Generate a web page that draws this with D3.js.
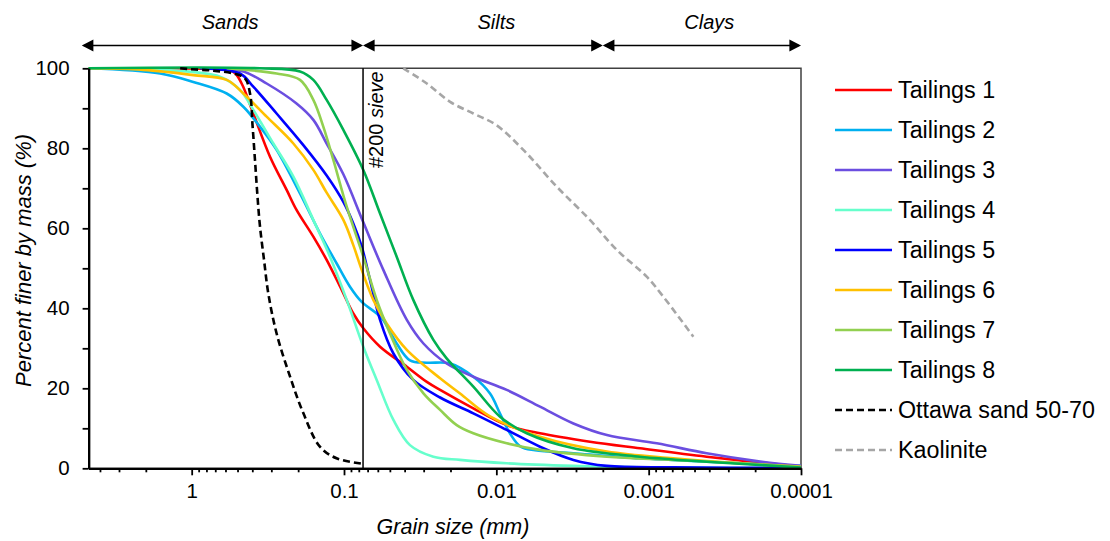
<!DOCTYPE html>
<html><head><meta charset="utf-8">
<script src="https://cdn.jsdelivr.net/npm/d3@7"></script>
<style>body{margin:0;background:#fff}text{font-family:"Liberation Sans",Arial,sans-serif;fill:#000}</style>
</head><body><svg id="c" width="1110" height="541"></svg>
<script>
// ---- data (grain size in mm, percent finer by mass) ----
const xMajorTicks = [1, 0.1, 0.01, 0.001, 0.0001];
const xTickLabels = ["1", "0.1", "0.01", "0.001", "0.0001"];
const yMajorTicks = [0, 20, 40, 60, 80, 100];
const yMinorTicks = [10, 30, 50, 70, 90];
const seriesNames = ["Tailings 1","Tailings 2","Tailings 3","Tailings 4","Tailings 5","Tailings 6","Tailings 7","Tailings 8","Ottawa sand 50-70","Kaolinite"];
const seriesColors = ["#FF0000","#00B0F0","#6B4EE0","#66FFCC","#0000FF","#FFC000","#92D050","#00B050","#000000","#A6A6A6"];
const seriesDashed = [false,false,false,false,false,false,false,false,true,true];
const soilZones = ["Sands","Silts","Clays"];
const zoneBounds = [4.75, 0.075, 0.002, 0.0001];
const zoneLabelAt = [0.56, 0.0100, 0.0004];
const sieve200 = 0.075;

const tailings1 = [[2.18,100],[0.88,99.9],[0.536,99.2],[0.470,96.2],[0.394,88.7],[0.306,77.9],[0.238,69.6],[0.205,64.6],[0.159,57.9],[0.130,52.1],[0.106,45.4],[0.0869,38.7],[0.0747,35],[0.0580,30.4],[0.0387,25.4],[0.0286,21.6],[0.0234,19.6],[0.01416,15],[0.00855,10.8],[0.00517,8.75],[0.00243,6.65],[0.00114,5],[0.000416,2.9],[0.0001,0.4]];
const tailings2 = [[4.75,100],[1.61,98.7],[0.976,96.6],[0.589,93.7],[0.458,90.4],[0.356,85.4],[0.277,79.6],[0.1945,68.7],[0.1437,58.7],[0.1117,51.2],[0.0914,45.4],[0.0765,41.6],[0.0610,38.7],[0.0552,37],[0.0451,31.2],[0.0369,27],[0.0286,26.4],[0.0201,26.2],[0.01416,22.9],[0.0110,18.7],[0.00946,13.7],[0.00813,8.7],[0.00692,5.4],[0.00557,4.5],[0.00312,3.75],[0.00114,2.5],[0.000416,1.65],[0.0001,0.6]];
const tailings3 = [[0.758,100],[0.458,99.2],[0.322,96.2],[0.205,91.2],[0.159,87.1],[0.130,81.2],[0.101,73.5],[0.0747,61.5],[0.0552,49.6],[0.0387,37.1],[0.0301,31.2],[0.0212,26.2],[0.01416,22.9],[0.00855,19.6],[0.00517,15.4],[0.00312,11.2],[0.00188,8.3],[0.000885,6.25],[0.000416,3.75],[0.000195,1.8],[0.0001,0.6]];
const tailings4 = [[4.75,100],[1.61,99.6],[0.652,97.9],[0.482,94.6],[0.394,89.6],[0.291,81.2],[0.215,72.9],[0.159,62.1],[0.1236,52.9],[0.096,42.1],[0.0747,30.4],[0.0610,22.1],[0.0474,12.1],[0.0369,5.8],[0.0259,2.9],[0.0173,2.1],[0.00855,1.25],[0.00312,0.6],[0.00114,0.25],[0.0001,0]];
const tailings5 = [[0.882,100],[0.482,98.7],[0.394,95.4],[0.277,88.7],[0.185,80.8],[0.130,73.2],[0.101,66.6],[0.0869,61.2],[0.0765,55.4],[0.0675,47.1],[0.0580,37.1],[0.0474,28.7],[0.0351,22.1],[0.0234,17.7],[0.01416,13.75],[0.00855,9.6],[0.00517,5.4],[0.00312,2.1],[0.00188,0.6],[0.000689,0.25],[0.0001,0.1]];
const tailings6 = [[4.75,100],[2.08,99.6],[0.976,98.3],[0.589,97.1],[0.458,93.7],[0.322,87.9],[0.215,81.2],[0.159,74.6],[0.130,68.9],[0.101,62.1],[0.0869,55.8],[0.0765,49.6],[0.0642,42.1],[0.0525,36.2],[0.0387,29.6],[0.0234,22.5],[0.0173,18.7],[0.0110,13],[0.00517,7.9],[0.00188,4.2],[0.000689,2.5],[0.000251,1.25],[0.0001,0.4]];
const tailings7 = [[0.589,100],[0.277,98.7],[0.1945,97.1],[0.159,92.1],[0.1368,85.4],[0.1175,77.1],[0.096,65.4],[0.0747,52.9],[0.0610,42.1],[0.0499,33.7],[0.0387,24.6],[0.0301,18.75],[0.0234,14.6],[0.0182,10.8],[0.01416,8.75],[0.00855,6.25],[0.00517,4.6],[0.00188,2.9],[0.000689,2.1],[0.000251,1.25],[0.0001,0.3]];
const tailings8 = [[4.75,100],[0.356,100],[0.1945,99.2],[0.159,97.1],[0.130,92.1],[0.101,84.6],[0.0747,74.6],[0.0580,63.7],[0.0451,52.9],[0.0351,42.1],[0.0259,32.1],[0.0212,27.5],[0.01416,20.4],[0.00946,12.9],[0.00632,8.75],[0.00312,5],[0.00114,2.9],[0.000416,1.65],[0.0001,0.2]];
const ottawaSand = [[1.19,100],[1.03,99.8],[0.72,99.4],[0.533,98.7],[0.447,97.5],[0.414,93.7],[0.398,85.4],[0.384,77],[0.371,68.7],[0.356,60.4],[0.335,52.1],[0.314,43.7],[0.277,33.7],[0.226,22.9],[0.185,13.8],[0.144,5.4],[0.112,2.5],[0.0747,1.1]];
const kaolinite = [[0.0408,100],[0.0286,96.2],[0.0201,91.6],[0.01416,88.7],[0.0100,85.8],[0.00665,79.6],[0.00401,70.4],[0.00243,62.1],[0.00162,54.6],[0.00103,47.9],[0.000801,42.9],[0.000509,32.9]];
const allSeries = [tailings1,tailings2,tailings3,tailings4,tailings5,tailings6,tailings7,tailings8,ottawaSand,kaolinite];

// ---- layout ----
const svg = d3.select("#c");
const L = 88.6, R = 801, T = 68.3, B = 468.3;
const x = d3.scaleLog().domain([4.75, 0.0001]).range([L, R]);
const y = d3.scaleLinear().domain([0, 100]).range([B, T]);

// minor x ticks (2..9 within each decade)
const xMinor = [];
[10, 1, 0.1, 0.01, 0.001].forEach(dec => { for (let k = 2; k <= 9; k++) { const v = dec * k / 10; if (v < 4.75 && v > 0.0001) xMinor.push(v); } });

// frame (top / right)
svg.append("path").attr("d", `M${L},${T}H${R}V${B}`).attr("fill","none").attr("stroke","#404040").attr("stroke-width",1.5);

// series
const line = d3.line().x(d => x(d[0])).y(d => Math.min(y(d[1]), B)).curve(d3.curveCatmullRom.alpha(0.5));
const plot = svg.append("g");
allSeries.forEach((s, i) => {
  plot.append("path").datum(s).attr("d", line).attr("fill","none")
    .attr("stroke", seriesColors[i]).attr("stroke-width", 2.6)
    .attr("stroke-dasharray", seriesDashed[i] ? "7,4" : null)
    .attr("stroke-linejoin","round");
});

// #200 sieve line
svg.append("line").attr("x1", x(sieve200)).attr("x2", x(sieve200)).attr("y1", T).attr("y2", B)
  .attr("stroke","#000").attr("stroke-width",1.5);
const st = svg.append("text").attr("transform", `translate(${x(sieve200)+19.5},${T+3}) rotate(-90)`)
  .attr("text-anchor","end").style("font-size","20px");
st.append("tspan").text("#200 ");
st.append("tspan").style("font-style","italic").text("sieve");

// axes
const gx = svg.append("g").attr("transform", `translate(0,${B})`);
gx.call(d3.axisBottom(x).tickValues(xMinor).tickSize(4).tickSizeOuter(0).tickFormat(""));
const gx2 = svg.append("g").attr("transform", `translate(0,${B})`);
gx2.call(d3.axisBottom(x).tickValues(xMajorTicks).tickSize(7).tickSizeOuter(0).tickPadding(8)
  .tickFormat((d, i) => xTickLabels[i]));
const gy = svg.append("g").attr("transform", `translate(${L},0)`);
gy.call(d3.axisLeft(y).tickValues(yMinorTicks).tickSize(6).tickSizeOuter(0).tickFormat(""));
const gy2 = svg.append("g").attr("transform", `translate(${L},0)`);
gy2.call(d3.axisLeft(y).tickValues(yMajorTicks).tickSize(6).tickSizeOuter(0).tickPadding(13));
[gx, gx2, gy, gy2].forEach(g => {
  g.selectAll(".domain").attr("stroke","#000").attr("stroke-width",2.2);
  g.selectAll(".tick line").attr("stroke","#000").attr("stroke-width",1.8);
  g.selectAll(".tick text").style("font-size","20.5px").style("font-family",'"Liberation Sans",Arial,sans-serif').attr("fill","#000");
});

// axis titles
svg.append("text").attr("x", 453).attr("y", 534).attr("text-anchor","middle")
  .style("font-size","21.5px").style("font-style","italic").text("Grain size (mm)");
svg.append("text").attr("transform","translate(31,260.5) rotate(-90)").attr("text-anchor","middle")
  .style("font-size","22px").style("font-style","italic").text("Percent finer by mass (%)");

// zone arrows
const ay = 45.5, ah = 11.6, aw = 6;
soilZones.forEach((z, i) => {
  const x0 = i === 0 ? x(zoneBounds[0]) - 6.8 : x(zoneBounds[i]);
  const x1 = x(zoneBounds[i + 1]);
  svg.append("line").attr("x1", x0 + 2).attr("x2", x1 - 2).attr("y1", ay).attr("y2", ay).attr("stroke","#000").attr("stroke-width",1.6);
  svg.append("path").attr("d", `M${x0},${ay}L${x0+ah},${ay-aw}L${x0+ah},${ay+aw}Z`).attr("fill","#000");
  svg.append("path").attr("d", `M${x1},${ay}L${x1-ah},${ay-aw}L${x1-ah},${ay+aw}Z`).attr("fill","#000");
  svg.append("text").attr("x", x(zoneLabelAt[i])).attr("y", 29).attr("text-anchor","middle")
    .style("font-size","20px").style("font-style","italic").text(z);
});

// legend
const lg = svg.append("g");
seriesNames.forEach((n, i) => {
  const ly = 90 + 40 * i;
  lg.append("line").attr("x1", 835).attr("x2", 892).attr("y1", ly).attr("y2", ly)
    .attr("stroke", seriesColors[i]).attr("stroke-width", 2.6)
    .attr("stroke-dasharray", seriesDashed[i] ? "7,4" : null);
  lg.append("text").attr("x", 898).attr("y", ly + 8.3).style("font-size","23.3px").text(n);
});
</script></body></html>
